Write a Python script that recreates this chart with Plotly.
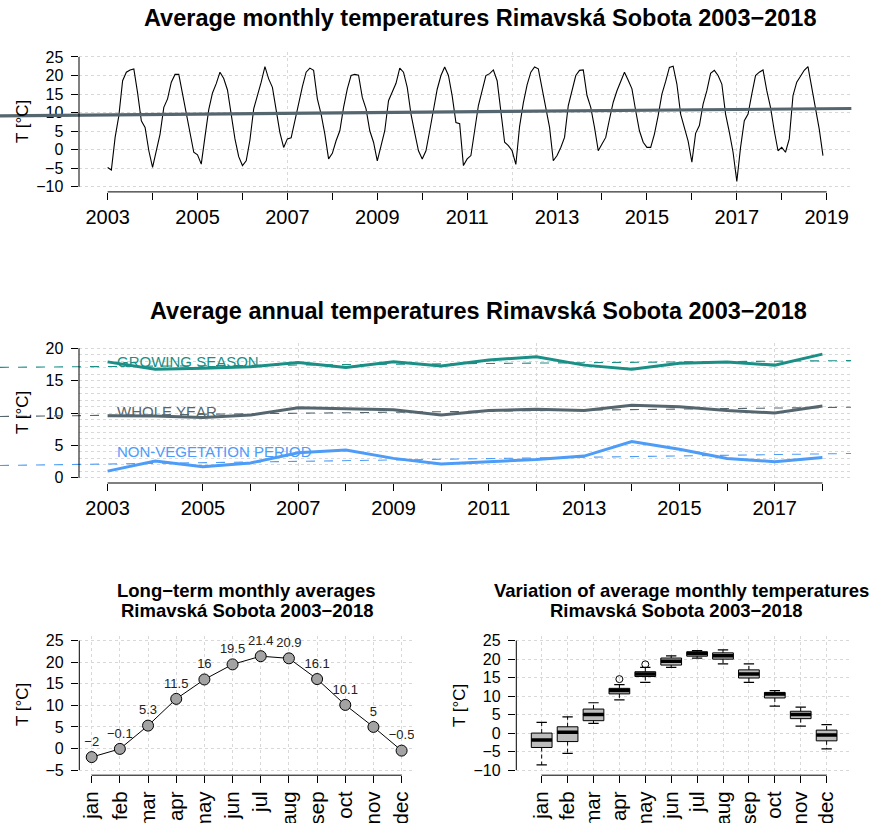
import plotly.graph_objects as go

W, H = 877, 823
FONT = "Liberation Sans, Arial, Helvetica, sans-serif"

# ---------------- data ----------------
# average monthly temperatures (deg C), Jan..Dec, one list per year
t2003 = [-4.8, -5.5, 3.3, 9.2, 18.6, 20.9, 21.5, 21.8, 15.3, 7.8, 6.0, -0.3]
t2004 = [-4.8, -0.3, 4.2, 11.4, 13.7, 18.2, 20.3, 20.3, 15.0, 10.1, 4.2, -0.7]
t2005 = [-1.4, -3.9, 3.5, 10.8, 15.3, 17.8, 20.9, 19.2, 16.1, 9.4, 2.9, -1.9]
t2006 = [-4.3, -3.0, 2.6, 11.0, 14.3, 18.2, 22.4, 19.1, 16.8, 10.5, 4.6, 0.6]
t2007 = [2.9, 3.2, 8.0, 12.0, 17.0, 20.9, 22.0, 21.4, 13.7, 9.6, 4.2, -2.5]
t2008 = [-1.0, 2.4, 5.1, 11.4, 16.4, 20.0, 20.3, 20.1, 14.1, 11.0, 5.1, 2.0]
t2009 = [-3.0, 1.0, 5.1, 13.2, 15.5, 17.9, 22.0, 20.9, 16.8, 9.6, 4.5, -0.3]
t2010 = [-2.5, -0.3, 5.1, 11.3, 16.3, 20.0, 22.3, 20.0, 14.5, 7.3, 7.0, -4.3]
t2011 = [-2.5, -1.6, 5.1, 11.9, 15.9, 20.0, 20.5, 21.5, 18.6, 10.1, 2.0, 1.1]
t2012 = [-0.3, -4.0, 6.3, 12.6, 17.5, 20.9, 22.3, 21.8, 16.8, 11.5, 6.0, -3.0]
t2013 = [-1.6, 0.6, 3.3, 11.9, 15.9, 20.0, 21.4, 21.5, 14.6, 11.4, 6.0, -0.3]
t2014 = [1.5, 3.3, 8.2, 12.8, 15.9, 18.6, 20.9, 18.7, 16.4, 10.5, 5.1, 2.0]
t2015 = [0.6, 0.6, 4.2, 9.2, 15.0, 18.4, 22.2, 22.5, 17.7, 9.6, 6.0, 2.3]
t2016 = [-3.4, 4.4, 6.5, 12.3, 15.9, 20.6, 21.4, 20.0, 17.7, 9.6, 4.7, -0.7]
t2017 = [-8.6, 0.6, 7.8, 9.6, 15.0, 20.0, 20.9, 21.5, 15.9, 11.4, 5.1, -0.3]
t2018 = [0.6, -0.7, 2.9, 14.6, 18.2, 20.0, 21.4, 22.4, 16.8, 11.4, 5.6, -1.6]
monthly_by_year = [t2003, t2004, t2005, t2006, t2007, t2008, t2009, t2010,
                   t2011, t2012, t2013, t2014, t2015, t2016, t2017, t2018]

# linear trend of the monthly series
monthly_trend_2003 = 9.37
monthly_trend_slope = 0.105

# annual averages
years = list(range(2003, 2019))
growing = [17.9, 16.75, 16.9, 17.15, 17.8, 17.05, 17.9, 17.26, 18.2, 18.7, 17.4, 16.75, 17.7, 17.9, 17.4, 19.1]
whole = [9.58, 9.55, 9.3, 9.7, 10.8, 10.6, 10.5, 9.7, 10.4, 10.6, 10.4, 11.2, 10.98, 10.4, 10.0, 11.1]
nonveg = [1.03, 2.58, 1.7, 2.3, 3.87, 4.28, 3.0, 2.12, 2.48, 2.83, 3.35, 5.6, 4.4, 3.0, 2.48, 3.15]
# trend lines (value at 2003, slope per year)
growing_trend = (17.185, 0.0586)
whole_trend = (9.648, 0.0802)
nonveg_trend = (2.13, 0.1043)

# long-term monthly averages
months = ["jan", "feb", "mar", "apr", "may", "jun", "jul", "aug", "sep", "oct", "nov", "dec"]
month_means = [-2, -0.1, 5.3, 11.5, 16, 19.5, 21.4, 20.9, 16.1, 10.1, 5, -0.5]

# box plot statistics per month
box_low = [-8.6, -5.5, 2.6, 9.0, 13.7, 17.8, 20.3, 18.7, 13.7, 7.3, 1.9, -4.3]
box_q1 = [-3.9, -2.3, 3.35, 10.6, 15.3, 18.4, 20.8, 20.0, 14.9, 9.5, 3.9, -2.1]
box_median = [-1.9, 0.2, 5.0, 11.5, 16.0, 19.4, 21.5, 20.9, 16.0, 10.6, 5.0, -0.5]
box_q3 = [0.0, 1.7, 6.5, 12.1, 16.6, 20.3, 22.0, 21.7, 17.1, 11.0, 5.9, 0.8]
box_high = [2.9, 4.4, 8.2, 13.1, 17.8, 20.9, 22.3, 22.5, 18.7, 11.5, 7.0, 2.3]
outlier_month = [4, 5]
outlier_value = [14.6, 18.6]

# ---------------- colours ----------------
C_TEAL = "#1a8f86"
C_SLATE = "#56666f"
C_BLUE = "#4d9cf8"
GRID = "#d8d8d8"

# ---------------- helpers ----------------
def xd(a, b):
    return [a / W, b / W]

def yd(top, bot):
    return [1 - bot / H, 1 - top / H]

fig = go.Figure()

R1x, R1y = [2002.363, 2019.554], [-11.4, 26.4]
R2x, R2y = [2002.4, 2018.6], [-0.8, 20.8]
R3x, R3y = [0.56, 12.44], [-6.2, 26.2]
R4x, R4y = [0.02, 12.98], [-11.4, 26.4]

# ---------- panel 1: monthly series ----------
mx, my = [], []
for yi, vals in zip(years, monthly_by_year):
    for m, v in enumerate(vals):
        mx.append(yi + m / 12)
        my.append(v)
fig.add_trace(go.Scatter(x=mx, y=my, mode="lines", line=dict(color="black", width=1.1),
                         xaxis="x", yaxis="y", showlegend=False, hoverinfo="skip"))
X5 = [2000.605, 2019.554]
fig.add_trace(go.Scatter(x=X5, y=[monthly_trend_2003 + monthly_trend_slope * (v - 2003) for v in X5],
                         mode="lines", line=dict(color=C_SLATE, width=3.2),
                         xaxis="x5", yaxis="y7", showlegend=False, hoverinfo="skip"))

# ---------- panel 2: annual series ----------
X6 = [2000.742, 2018.6]
series2 = [(growing, growing_trend, C_TEAL), (whole, whole_trend, C_SLATE), (nonveg, nonveg_trend, C_BLUE)]
for vals, trend, col in series2:
    fig.add_trace(go.Scatter(x=X6, y=[trend[0] + trend[1] * (v - 2003) for v in X6], mode="lines",
                             line=dict(color=col, width=1.1, dash="dash"),
                             xaxis="x6", yaxis="y8", showlegend=False, hoverinfo="skip"))
for vals, trend, col in series2:
    fig.add_trace(go.Scatter(x=years, y=vals, mode="lines", line=dict(color=col, width=3),
                             xaxis="x2", yaxis="y2", showlegend=False, hoverinfo="skip"))

# ---------- panel 3: long-term monthly averages ----------
mnum = list(range(1, 13))
fig.add_trace(go.Scatter(
    x=mnum, y=month_means, mode="lines+markers+text",
    line=dict(color="black", width=1),
    marker=dict(size=11, color="#a3a3a3", line=dict(color="black", width=1)),
    text=[f"{v:g}".replace("-", "\u2212") for v in month_means],
    textposition="top center", textfont=dict(size=13, color="#222", family=FONT),
    xaxis="x3", yaxis="y3", showlegend=False, hoverinfo="skip"))

# ---------- panel 4: box plots (R style: dashed whiskers, solid staples, thick median) ----------
BOXW = 0.8
wx, wy, sx, sy, medx, medy = [], [], [], [], [], []
for m, lo, q1, md, q3, hi in zip(mnum, box_low, box_q1, box_median, box_q3, box_high):
    wx += [m, m, None, m, m, None]
    wy += [q3, hi, None, q1, lo, None]
    sx += [m - BOXW / 4, m + BOXW / 4, None, m - BOXW / 4, m + BOXW / 4, None]
    sy += [hi, hi, None, lo, lo, None]
    medx += [m - BOXW / 2, m + BOXW / 2, None]
    medy += [md, md, None]
fig.add_trace(go.Scatter(x=wx, y=wy, mode="lines", line=dict(color="black", width=1, dash="4px,3px"),
                         xaxis="x4", yaxis="y4", showlegend=False, hoverinfo="skip"))
fig.add_trace(go.Scatter(x=sx, y=sy, mode="lines", line=dict(color="black", width=1.2),
                         xaxis="x4", yaxis="y4", showlegend=False, hoverinfo="skip"))
fig.add_trace(go.Box(
    x=mnum, q1=box_q1, median=box_median, q3=box_q3, lowerfence=box_q1, upperfence=box_q3,
    width=BOXW, whiskerwidth=0, fillcolor="#bdbdbd", line=dict(color="black", width=1),
    boxpoints=False, xaxis="x4", yaxis="y4", showlegend=False, hoverinfo="skip"))
fig.add_trace(go.Scatter(x=medx, y=medy, mode="lines", line=dict(color="black", width=3.5),
                         xaxis="x4", yaxis="y4", showlegend=False, hoverinfo="skip"))
fig.add_trace(go.Scatter(x=outlier_month, y=outlier_value, mode="markers",
                         marker=dict(symbol="circle-open", size=7, color="black", line=dict(width=1)),
                         xaxis="x4", yaxis="y4", showlegend=False, hoverinfo="skip"))

# ---------------- axes ----------------
def ax(domain, rng, tickvals, ticktext, fsize, anchor, grid_major=False, minor_vals=None, angle=0):
    d = dict(domain=domain, range=rng, anchor=anchor, showline=False, zeroline=False,
             ticks="outside", ticklen=7, tickwidth=1, tickcolor="black",
             tickmode="array", tickvals=tickvals, ticktext=ticktext,
             tickfont=dict(size=fsize, color="black", family=FONT),
             showgrid=grid_major, gridcolor=GRID, griddash="dot", gridwidth=1,
             tickangle=angle, fixedrange=True, automargin=False)
    if minor_vals is not None:
        d["minor"] = dict(tickmode="array", tickvals=minor_vals, showgrid=True, gridcolor=GRID,
                          griddash="dot", gridwidth=1, ticks="")
    return d

def hidden(domain, rng, anchor):
    return dict(domain=domain, range=rng, anchor=anchor, visible=False, fixedrange=True,
                automargin=False)

yr1 = list(range(2003, 2020))
yr2 = list(range(2003, 2019))
lab = lambda lst: [str(v) if v % 2 == 1 else "" for v in lst]
neg = lambda lst: [str(v).replace("-", "\u2212") + "\u00a0" for v in lst]
vgrid = [2007, 2012, 2017]

P1 = dict(x=xd(79, 851.6), y=yd(51.8, 191.9))
P2 = dict(x=xd(79, 851), y=yd(343.1, 483))
P3 = dict(x=xd(79.3, 414), y=yd(635.5, 775.2))
P4 = dict(x=xd(516.3, 852), y=yd(635.5, 775.2))

ytk1 = list(range(-10, 30, 5))
ytk2 = list(range(0, 25, 5))
ytk3 = list(range(-5, 30, 5))

fig.update_layout(
    xaxis=ax(P1["x"], R1x, yr1, lab(yr1), 20, "y", False, vgrid),
    yaxis=ax(P1["y"], R1y, ytk1, neg(ytk1), 16, "x", True),
    xaxis5=hidden([0, 851.6 / W], X5, "y7"),
    yaxis7=hidden(P1["y"], R1y, "x5"),
    xaxis2=ax(P2["x"], R2x, yr2, lab(yr2), 20, "y2", False, vgrid),
    yaxis2=ax(P2["y"], R2y, ytk2, neg(ytk2), 16, "x2", True,
              [v for v in range(1, 20) if v % 5]),
    xaxis6=hidden([0, 851 / W], X6, "y8"),
    yaxis8=hidden(P2["y"], R2y, "x6"),
    xaxis3=ax(P3["x"], R3x, mnum, months, 20.5, "y3", True, None, -90),
    yaxis3=ax(P3["y"], R3y, ytk3, neg(ytk3), 16, "x3", True),
    xaxis4=ax(P4["x"], R4x, mnum, months, 20.5, "y4", True, None, -90),
    yaxis4=ax(P4["y"], R4y, ytk1, neg(ytk1), 16, "x4", True),
)

# ---------------- axis lines (R style: from first to last tick) ----------------
def to_paper(v, rng, dom):
    return dom[0] + (v - rng[0]) / (rng[1] - rng[0]) * (dom[1] - dom[0])

shapes = []
for P, xr, yr, xt, yt in [
    (P1, R1x, R1y, yr1, ytk1),
    (P2, R2x, R2y, yr2, ytk2),
    (P3, R3x, R3y, mnum, ytk3),
    (P4, R4x, R4y, mnum, ytk1),
]:
    shapes.append(dict(type="line", xref="paper", yref="paper",
                       x0=to_paper(xt[0], xr, P["x"]), x1=to_paper(xt[-1], xr, P["x"]),
                       y0=P["y"][0], y1=P["y"][0], line=dict(color="black", width=1)))
    shapes.append(dict(type="line", xref="paper", yref="paper",
                       x0=P["x"][0], x1=P["x"][0],
                       y0=to_paper(yt[0], yr, P["y"]), y1=to_paper(yt[-1], yr, P["y"]),
                       line=dict(color="black", width=1)))

# ---------------- text ----------------
def ann(text, xpx, ypx, size, bold=False, color="black", angle=0):
    return dict(text=f"<b>{text}</b>" if bold else text, x=xpx / W, y=1 - ypx / H,
                xref="paper", yref="paper", showarrow=False, xanchor="center", yanchor="middle",
                textangle=angle, font=dict(size=size, color=color, family=FONT))

annotations = [
    ann("Average monthly temperatures Rimavská Sobota 2003\u22122018", 479.5, 18, 23.5, True),
    ann("Average annual temperatures Rimavská Sobota 2003\u22122018", 479, 311, 23.5, True),
    ann("Long\u2212term monthly averages", 246.5, 590, 18.5, True),
    ann("Rimavská Sobota 2003\u22122018", 246.5, 610, 18.5, True),
    ann("Variation of average monthly temperatures", 681, 590, 18.5, True),
    ann("Rimavská Sobota 2003\u22122018", 676, 610, 18.5, True),
    ann("T [°C]", 22, 122, 17, angle=-90),
    ann("T [°C]", 22, 413, 17, angle=-90),
    ann("T [°C]", 22, 705, 17, angle=-90),
    ann("T [°C]", 459, 705, 17, angle=-90),
]
for text, yv, col in [("GROWING SEASON", 17.9, C_TEAL), ("WHOLE YEAR", 10.3, C_SLATE),
                      ("NON-VEGETATION PERIOD", 4.0, C_BLUE)]:
    annotations.append(dict(text=text, x=2003.15, y=yv, xref="x2", yref="y2", showarrow=False,
                            xanchor="left", yanchor="middle",
                            font=dict(size=15, color=col, family=FONT)))

fig.update_layout(
    width=W, height=H, margin=dict(l=0, r=0, t=0, b=0, autoexpand=False),
    paper_bgcolor="white", plot_bgcolor="rgba(0,0,0,0)",
    shapes=shapes, annotations=annotations, showlegend=False,
    font=dict(family=FONT, color="black"),
)

fig.write_html("out.html")
